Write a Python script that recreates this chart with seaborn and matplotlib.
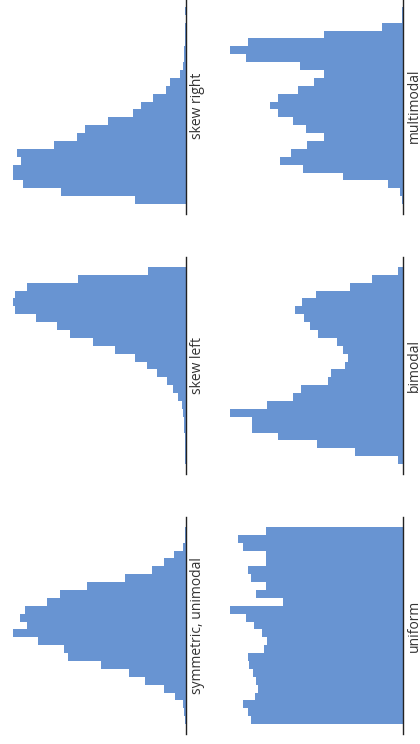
import numpy as np
import pandas as pd
import matplotlib
matplotlib.use("Agg")
import matplotlib.pyplot as plt
import seaborn as sns

sns.set_style("white")
plt.rcParams['font.family'] = ['Open Sans', 'DejaVu Sans']

# Bin counts, listed from the lowest bin to the highest (25 equal bins each)
symmetric_unimodal = [1, 2, 3, 11, 22, 41, 57, 85, 118, 122, 148, 173, 159, 166, 161,
                      139, 126, 99, 61, 34, 22, 12, 3, 1, 1]
skew_left = [1, 1, 1, 1, 2, 2, 3, 4, 8, 13, 19, 29, 39, 51, 71, 93, 116, 129, 150,
             171, 173, 171, 159, 108, 38]
skew_right = [51, 125, 163, 173, 173, 165, 169, 132, 109, 101, 78, 53, 45, 33, 20,
              16, 6, 3, 2, 2, 1, 1, 1, 0, 1]
uniform = [152, 155, 160, 148, 145, 147, 150, 154, 155, 139, 136, 141, 149, 157, 173,
           120, 147, 137, 152, 155, 137, 137, 160, 165, 137]
bimodal = [5, 48, 86, 125, 151, 151, 173, 136, 110, 102, 75, 72, 58, 55, 60, 66, 85,
           93, 99, 108, 101, 87, 53, 31, 5]
multimodal = [1, 3, 15, 60, 100, 123, 112, 96, 79, 97, 110, 125, 133, 125, 105, 89,
              79, 103, 157, 173, 155, 79, 21, 1, 1]

labels = ["symmetric, unimodal", "skew left", "skew right",
          "uniform", "bimodal", "multimodal"]
series = [symmetric_unimodal, skew_left, skew_right, uniform, bimodal, multimodal]

BAR = "#6894d2"
W, H = 420, 744
fig = plt.figure(figsize=(W / 100, H / 100), dpi=100)

# panel placement (rotated layout): column 0 = first three, column 1 = last three
col_x = [4, 221]
row_top = [517, 257, -3]   # image-y of top of axes: bottom row .. top row
ax_w, ax_h = 182, 217

for i, (lab, counts) in enumerate(zip(labels, series)):
    col = i // 3
    row = i % 3
    x0 = col_x[col]
    ytop = row_top[row]
    ax = fig.add_axes([x0 / W, (H - ytop - ax_h) / H, ax_w / W, ax_h / H])
    n = len(counts)
    df = pd.DataFrame({"value": np.arange(n) + 0.5, "count": counts})
    sns.histplot(data=df, y="value", weights="count", binwidth=1, binrange=(0, n),
                 element="step", fill=True, ax=ax, color=BAR, alpha=1,
                 linewidth=0)
    ax.set_ylim(-0.05 * n, 1.05 * n)
    ax.set_xlim(max(counts) * 1.05, 0)
    ax.set_xticks([])
    ax.set_yticks([])
    ax.set_xlabel("")
    for s in ["left", "top", "bottom"]:
        ax.spines[s].set_visible(False)
    ax.spines["right"].set_visible(True)
    ax.spines["right"].set_color("#222222")
    ax.spines["right"].set_linewidth(1.0)
    ax.spines["right"].set_zorder(5)
    ax.yaxis.set_label_position("right")
    ax.set_ylabel(lab, fontsize=10, color="#333333", rotation=90, labelpad=3)

fig.savefig("out.png", dpi=100, facecolor="white")
